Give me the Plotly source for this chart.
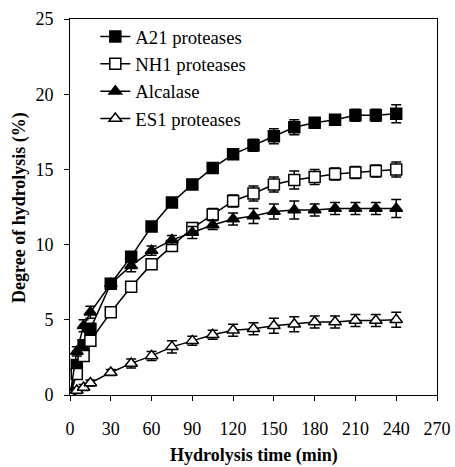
import plotly.graph_objects as go

time_min = [0, 5, 10, 15, 30, 45, 60, 75, 90, 105, 120, 135, 150, 165, 180, 195, 210, 225, 240]

a21 = [0, 2.0, 3.3, 4.4, 7.4, 9.2, 11.2, 12.8, 14.0, 15.1, 16.0, 16.6, 17.2, 17.8, 18.1, 18.3, 18.6, 18.6, 18.7]
a21_err = [0.1, 0.2, 0.3, 0.3, 0.3, 0.3, 0.3, 0.3, 0.3, 0.3, 0.3, 0.4, 0.5, 0.5, 0.3, 0.3, 0.4, 0.4, 0.6]

nh1 = [0, 1.4, 2.6, 3.6, 5.5, 7.2, 8.7, 9.9, 11.1, 12.0, 12.9, 13.4, 14.0, 14.3, 14.5, 14.7, 14.8, 14.9, 15.0]
nh1_err = [0.1, 0.2, 0.2, 0.2, 0.2, 0.2, 0.2, 0.2, 0.2, 0.4, 0.4, 0.5, 0.5, 0.6, 0.5, 0.4, 0.4, 0.4, 0.5]

alcalase = [0, 2.9, 4.6, 5.5, 7.4, 8.6, 9.6, 10.3, 10.8, 11.3, 11.7, 11.9, 12.2, 12.3, 12.3, 12.4, 12.4, 12.4, 12.4]
alcalase_err = [0.1, 0.3, 0.4, 0.4, 0.3, 0.4, 0.3, 0.3, 0.4, 0.3, 0.4, 0.5, 0.5, 0.6, 0.4, 0.4, 0.4, 0.4, 0.6]

es1 = [0, 0.3, 0.5, 0.8, 1.5, 2.1, 2.6, 3.2, 3.6, 4.0, 4.3, 4.4, 4.6, 4.7, 4.85, 4.85, 4.95, 4.95, 5.0]
es1_err = [0.1, 0.2, 0.2, 0.2, 0.2, 0.3, 0.3, 0.4, 0.3, 0.3, 0.4, 0.4, 0.5, 0.5, 0.4, 0.4, 0.4, 0.4, 0.5]

series_names = ["A21 proteases", "NH1 proteases", "Alcalase", "ES1 proteases"]
x_ticks = [0, 30, 60, 90, 120, 150, 180, 210, 240, 270]
y_ticks = [0, 5, 10, 15, 20, 25]
x_title = "Hydrolysis time (min)"
y_title = "Degree of hydrolysis (%)"

serif = "Liberation Serif, Times New Roman, serif"

styles = [
    dict(symbol="square", color="black", size=11),
    dict(symbol="square", color="white", size=11),
    dict(symbol="triangle-up", color="black", size=11),
    dict(symbol="triangle-up", color="white", size=11),
]

fig = go.Figure()
for name, ys, errs, st in zip(series_names, [a21, nh1, alcalase, es1],
                              [a21_err, nh1_err, alcalase_err, es1_err], styles):
    fig.add_trace(go.Scatter(
        x=time_min, y=ys, name=name, legendgroup=name,
        mode="lines+markers",
        line=dict(color="black", width=1.5),
        marker=dict(symbol=st["symbol"], color=st["color"], size=st["size"],
                    line=dict(color="black", width=1.5)),
        error_y=dict(type="data", array=errs, visible=True, color="black",
                     thickness=1.5, width=5),
    ))

axis_common = dict(
    showline=True, linecolor="black", linewidth=1, mirror=True,
    showgrid=False, zeroline=False, automargin=False,
    ticks="outside", ticklen=5, tickcolor="black", tickwidth=1,
    tickfont=dict(family=serif, size=18, color="black"),
)

fig.update_layout(
    width=455, height=467,
    margin=dict(l=70, r=18, t=19, b=72),
    paper_bgcolor="white", plot_bgcolor="white",
    showlegend=True,
    legend=dict(
        x=0.069, y=1.003, xanchor="left", yanchor="top",
        font=dict(family=serif, size=18.7, color="black"),
        bgcolor="rgba(0,0,0,0)", tracegroupgap=0,
        itemwidth=30,
    ),
    xaxis=dict(range=[0, 270], tickvals=x_ticks, ticklabelstandoff=12, **axis_common),
    yaxis=dict(range=[0, 25], tickvals=y_ticks, ticklabelstandoff=7, **axis_common),
    annotations=[
        dict(text="<b>" + x_title + "</b>", xref="paper", yref="paper",
             x=0.5, y=-0.162, xanchor="center", yanchor="middle", showarrow=False,
             font=dict(family=serif, size=18, color="black")),
        dict(text="<b>" + y_title + "</b>", xref="paper", yref="paper",
             x=-0.139, y=0.5, xanchor="center", yanchor="middle", showarrow=False,
             textangle=-90, font=dict(family=serif, size=18, color="black")),
    ],
)

fig.write_html("out.html")
